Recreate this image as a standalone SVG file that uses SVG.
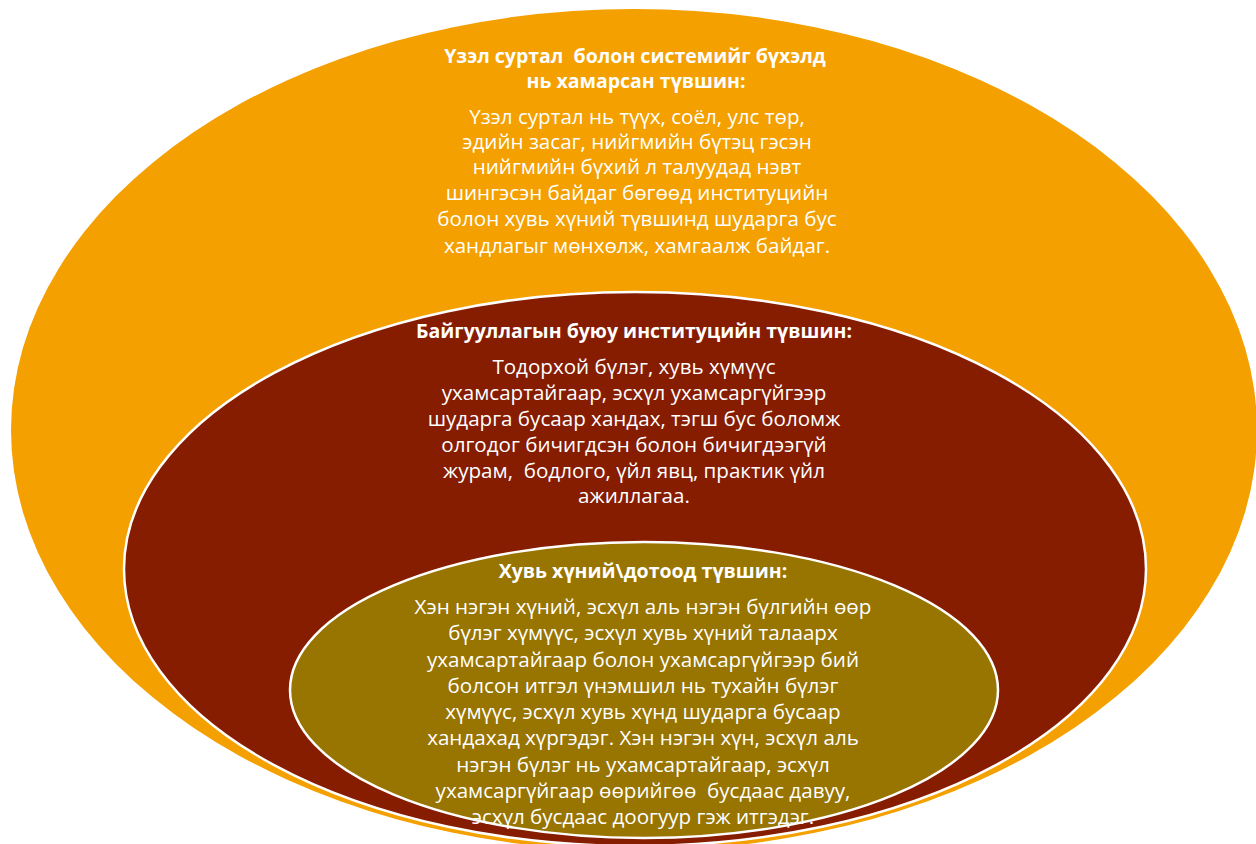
<svg xmlns="http://www.w3.org/2000/svg" width="1256" height="844" viewBox="0 0 1256 844" xml:space="preserve">
<style>
.t{font-family:"Open Sans","Noto Sans",sans-serif;fill:#ffffff;text-anchor:middle;font-size:20.6px;white-space:pre}
.b{font-weight:bold;font-size:19.5px}
.ring{stroke:#ffffff;stroke-width:2.5}
</style>
<rect width="1256" height="844" fill="#ffffff"/>
<g id="outer">
<ellipse cx="634" cy="430" rx="623" ry="421" fill="#F4A000"/>
<text class="t b" x="635" y="63">Үзэл суртал  болон системийг бүхэлд</text>
<text class="t b" x="636" y="88">нь хамарсан түвшин:</text>
<text class="t" x="637" y="124">Үзэл суртал нь түүх, соёл, улс төр,</text>
<text class="t" x="637" y="149">эдийн засаг, нийгмийн бүтэц гэсэн</text>
<text class="t" x="637" y="174">нийгмийн бүхий л талуудад нэвт</text>
<text class="t" x="637" y="200">шингэсэн байдаг бөгөөд институцийн</text>
<text class="t" x="637" y="226">болон хувь хүний түвшинд шударга бус</text>
<text class="t" x="637" y="253">хандлагыг мөнхөлж, хамгаалж байдаг.</text>
</g>
<g id="middle">
<ellipse class="ring" cx="635" cy="569" rx="511" ry="277" fill="#861C00"/>
<text class="t b" x="634" y="338">Байгууллагын буюу институцийн түвшин:</text>
<text class="t" x="634" y="374">Тодорхой бүлэг, хувь хүмүүс</text>
<text class="t" x="634" y="400">ухамсартайгаар, эсхүл ухамсаргүйгээр</text>
<text class="t" x="634" y="426">шударга бусаар хандах, тэгш бус боломж</text>
<text class="t" x="634" y="452">олгодог бичигдсэн болон бичигдээгүй</text>
<text class="t" x="634" y="478">журам,  бодлого, үйл явц, практик үйл</text>
<text class="t" x="634" y="503">ажиллагаа.</text>
</g>
<g id="inner">
<ellipse class="ring" cx="644" cy="690" rx="354" ry="148" fill="#987400"/>
<text class="t b" x="643" y="578">Хувь хүний\дотоод түвшин:</text>
<text class="t" x="643" y="614">Хэн нэгэн хүний, эсхүл аль нэгэн бүлгийн өөр</text>
<text class="t" x="643" y="640">бүлэг хүмүүс, эсхүл хувь хүний талаарх</text>
<text class="t" x="643" y="667">ухамсартайгаар болон ухамсаргүйгээр бий</text>
<text class="t" x="643" y="693">болсон итгэл үнэмшил нь тухайн бүлэг</text>
<text class="t" x="643" y="719">хүмүүс, эсхүл хувь хүнд шударга бусаар</text>
<text class="t" x="643" y="745">хандахад хүргэдэг. Хэн нэгэн хүн, эсхүл аль</text>
<text class="t" x="643" y="772">нэгэн бүлэг нь ухамсартайгаар, эсхүл</text>
<text class="t" x="643" y="798">ухамсаргүйгаар өөрийгөө  бусдаас давуу,</text>
<text class="t" x="643" y="824">эсхүл бусдаас доогуур гэж итгэдэг.</text>
</g>
<g id="connectors"/>
</svg>
